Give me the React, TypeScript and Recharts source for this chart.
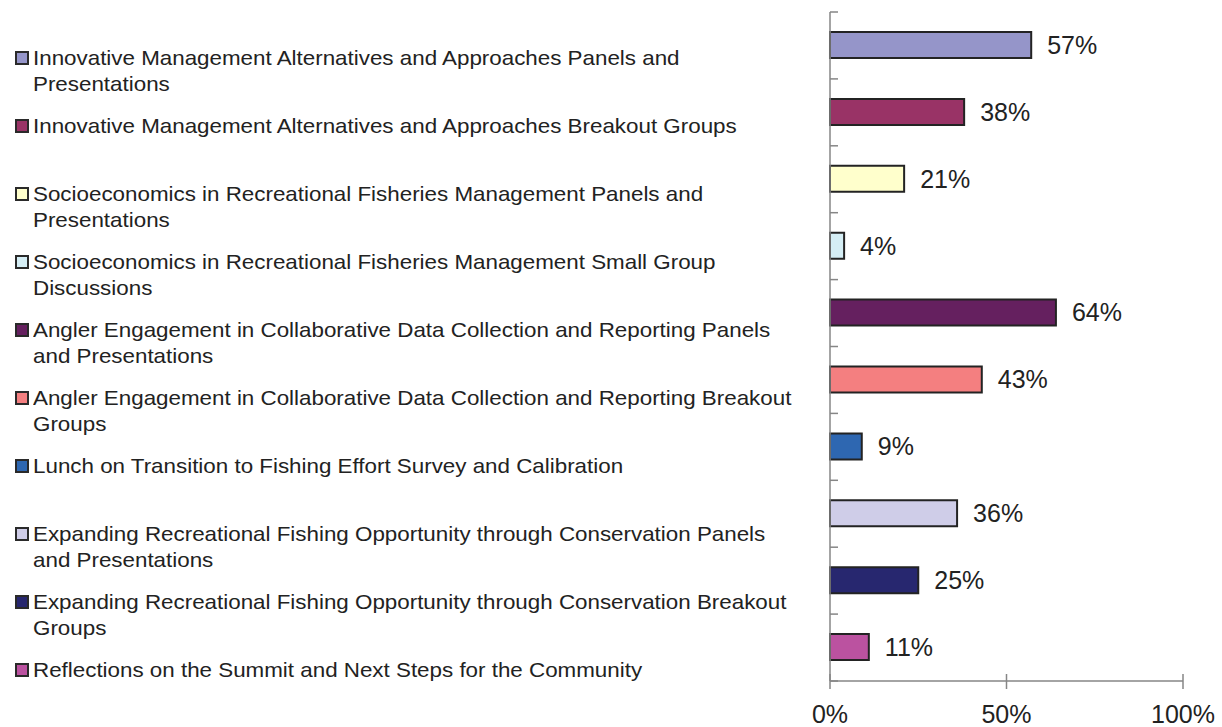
import { BarChart, Bar, XAxis, YAxis, LabelList, Cell } from 'recharts';

const sessions = [
  'Innovative Management Alternatives and Approaches Panels and Presentations',
  'Innovative Management Alternatives and Approaches Breakout Groups',
  'Socioeconomics in Recreational Fisheries Management Panels and Presentations',
  'Socioeconomics in Recreational Fisheries Management Small Group Discussions',
  'Angler Engagement in Collaborative Data Collection and Reporting Panels and Presentations',
  'Angler Engagement in Collaborative Data Collection and Reporting Breakout Groups',
  'Lunch on Transition to Fishing Effort Survey and Calibration',
  'Expanding Recreational Fishing Opportunity through Conservation Panels and Presentations',
  'Expanding Recreational Fishing Opportunity through Conservation Breakout Groups',
  'Reflections on the Summit and Next Steps for the Community',
];

const percents = [57, 38, 21, 4, 64, 43, 9, 36, 25, 11];

const xTicks = [0, 50, 100];

const COLORS = [
  '#9595C9', '#993366', '#FFFFCC', '#D5EEF5', '#65205F',
  '#F47F80', '#2E67B1', '#CFCDE8', '#27276F', '#BB52A0',
];

const FONT = '"Liberation Sans", Arial, sans-serif';
const AXIS = '#868686';
const TEXT = '#222';

const data = sessions.map((name, i) => ({ name, value: percents[i], idx: i }));

const XTick = (props: any) => {
  const { x, y, payload } = props;
  return (
    <g>
      <line x1={x} x2={x} y1={y - 7} y2={y + 8} stroke={AXIS} strokeWidth={1.5} />
      <text x={x} y={y + 42} textAnchor="middle" fontSize={25} fill={TEXT} fontFamily={FONT}>
        {payload.value}%
      </text>
    </g>
  );
};

// tick marks sit between categories, not at their centres
const YTick = (props: any) => {
  const { x, y, payload, index } = props;
  const half = payload?.offset ?? 0;
  return (
    <g>
      <line x1={x} x2={x + 8} y1={y - half} y2={y - half} stroke={AXIS} strokeWidth={1.5} />
      {index === sessions.length - 1 && (
        <line x1={x} x2={x + 8} y1={y + half} y2={y + half} stroke={AXIS} strokeWidth={1.5} />
      )}
    </g>
  );
};

const Legend = () => (
  <div
    style={{
      position: 'absolute',
      left: 0,
      top: 45,
      fontFamily: FONT,
      fontSize: 21,
      lineHeight: '25.7px',
      color: TEXT,
    }}
  >
    {sessions.map((s, i) => (
      <div key={s} style={{ position: 'relative', height: 68 }}>
        <div
          style={{
            position: 'absolute',
            left: 15,
            top: 6,
            width: 10,
            height: 10,
            background: COLORS[i],
            border: '2px solid #2a2a2a',
          }}
        />
        <div
          style={{
            position: 'absolute',
            left: 33,
            top: 0,
            width: 724,
            transform: 'scaleX(1.065)',
            transformOrigin: 'left top',
          }}
        >
          {s}
        </div>
      </div>
    ))}
  </div>
);

export default function App() {
  return (
    <div style={{ position: 'absolute', left: 0, top: 0, width: 1222, height: 727, background: '#fff' }}>
      <Legend />
      <BarChart
        width={1222}
        height={727}
        data={data}
        layout="vertical"
        margin={{ top: 12, right: 39, bottom: 0, left: 829 }}
        barSize={26}
      >
        <XAxis
          type="number"
          domain={[0, 100]}
          ticks={xTicks}
          interval={0}
          height={46}
          stroke={AXIS}
          strokeWidth={1.5}
          tickLine={false}
          tickSize={0}
          tickMargin={0}
          tick={<XTick />}
        />
        <YAxis
          type="category"
          dataKey="name"
          width={1}
          interval={0}
          tickLine={false}
          tickSize={0}
          tickMargin={0}
          tick={<YTick />}
          stroke={AXIS}
          strokeWidth={1.5}
        />
        <Bar dataKey="value" stroke="#232323" strokeWidth={2} isAnimationActive={false}>
          {data.map((d) => (
            <Cell key={d.name} fill={COLORS[d.idx]} />
          ))}
          <LabelList
            dataKey="value"
            position="right"
            offset={16}
            formatter={(v: any) => `${v}%`}
            fill={TEXT}
            fontSize={25}
            fontFamily={FONT}
          />
        </Bar>
      </BarChart>
    </div>
  );
}
